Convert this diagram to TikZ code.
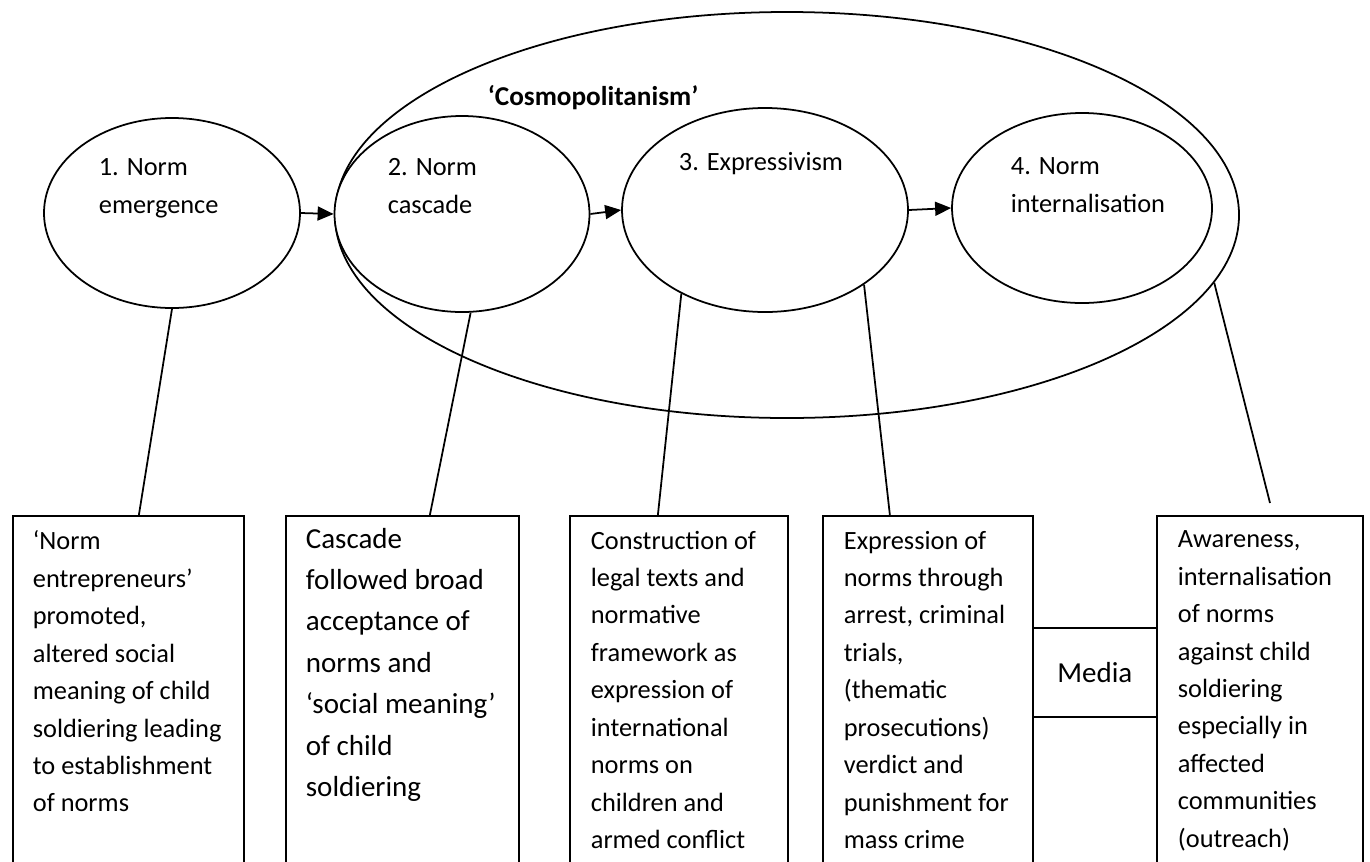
\documentclass[tikz,border=0pt]{standalone}
\usepackage{fontspec}
\setmainfont{Carlito}
\usetikzlibrary{shapes.geometric,arrows.meta}
\begin{document}
\begin{tikzpicture}[x=0.2mm,y=-0.2mm,line width=1pt,
  stage/.style={draw, fill=white, ellipse, inner sep=0pt},
  card/.style={draw, rectangle, inner sep=0pt, anchor=north west},
  txt/.style={align=left, inner sep=0pt, anchor=north west, font=\fontsize{15}{21.3}\selectfont},
  bigtxt/.style={align=left, inner sep=0pt, anchor=north west, font=\fontsize{16.5}{23.6}\selectfont},
  flow/.style={-{Triangle[length=3.2mm,width=2.8mm]}}]
\useasboundingbox (0,0) rectangle (1370,861);
\clip (0,0) rectangle (1370,861);
% The stages
\node (cosmo) [stage, minimum width=180.8mm, minimum height=81.2mm] at (787,215) {};
\node (emergence) [stage, minimum width=51.2mm, minimum height=38mm] at (172,213) {};
\node (cascade) [stage, minimum width=51mm, minimum height=39.2mm] at (462,214) {};
\node (express) [stage, minimum width=57.2mm, minimum height=40.8mm] at (765,210) {};
\node (internal) [stage, minimum width=52mm, minimum height=38mm] at (1082,208) {};
\node (cosmolabel) [font=\fontsize{15.5}{18}\selectfont\bfseries] at (593,98) {‘Cosmopolitanism’};
\node (t1) [txt] at (98,158) {1. Norm\\emergence};
\node (t2) [txt] at (387,158) {2. Norm\\cascade};
\node (t3) [txt] at (678,151) {3. Expressivism};
\node (t4) [txt] at (1010,157) {4. Norm\\internalisation};
% The boxes
\node (b1) [card, minimum width=46.2mm, minimum height=80mm] at (12,515) {};
\node (b2) [card, minimum width=46.6mm, minimum height=80mm] at (285,515) {};
\node (b3) [card, minimum width=43.6mm, minimum height=80mm] at (569,515) {};
\node (b4) [card, minimum width=42mm, minimum height=80mm] at (822,515) {};
\node (media) [card, minimum width=24.8mm, minimum height=17.8mm] at (1032,627) {};
\node (b5) [card, minimum width=41.2mm, minimum height=80mm] at (1156,515) {};
\node at (media.center) {\fontsize{16.5}{20}\selectfont Media};
\node (d1) [txt] at (32,530) {‘Norm\\entrepreneurs’\\promoted,\\altered social\\meaning of child\\soldiering leading\\to establishment\\of norms};
\node (d2) [bigtxt] at (305,527) {Cascade\\followed broad\\acceptance of\\norms and\\‘social meaning’\\of child\\soldiering};
\node (d3) [txt] at (590,530) {Construction of\\legal texts and\\normative\\framework as\\expression of\\international\\norms on\\children and\\armed conflict};
\node (d4) [txt] at (843,530) {Expression of\\norms through\\arrest, criminal\\trials,\\(thematic\\prosecutions)\\verdict and\\punishment for\\mass crime};
\node (d5) [txt] at (1177,530) {Awareness,\\internalisation\\of norms\\against child\\soldiering\\especially in\\affected\\communities\\(outreach)};
% Connect the stages
\draw[flow] (emergence.east) -- (cascade.west);
\draw[flow] (cascade.east) -- (express.west);
\draw[flow] (express.east) -- (internal.west);
% Connect stages to boxes
\coordinate (end5) at (1270,503);
\draw (emergence.270) -- ([xshift=2.1mm]b1.north);
\draw (cascade.275) -- ([xshift=5.5mm]b2.north);
\draw (express.225) -- ([xshift=-4.2mm]b3.north);
\draw (express.323) -- ([xshift=-7.6mm]b4.north);
\draw (cosmo.351) -- (end5);
\end{tikzpicture}
\end{document}
